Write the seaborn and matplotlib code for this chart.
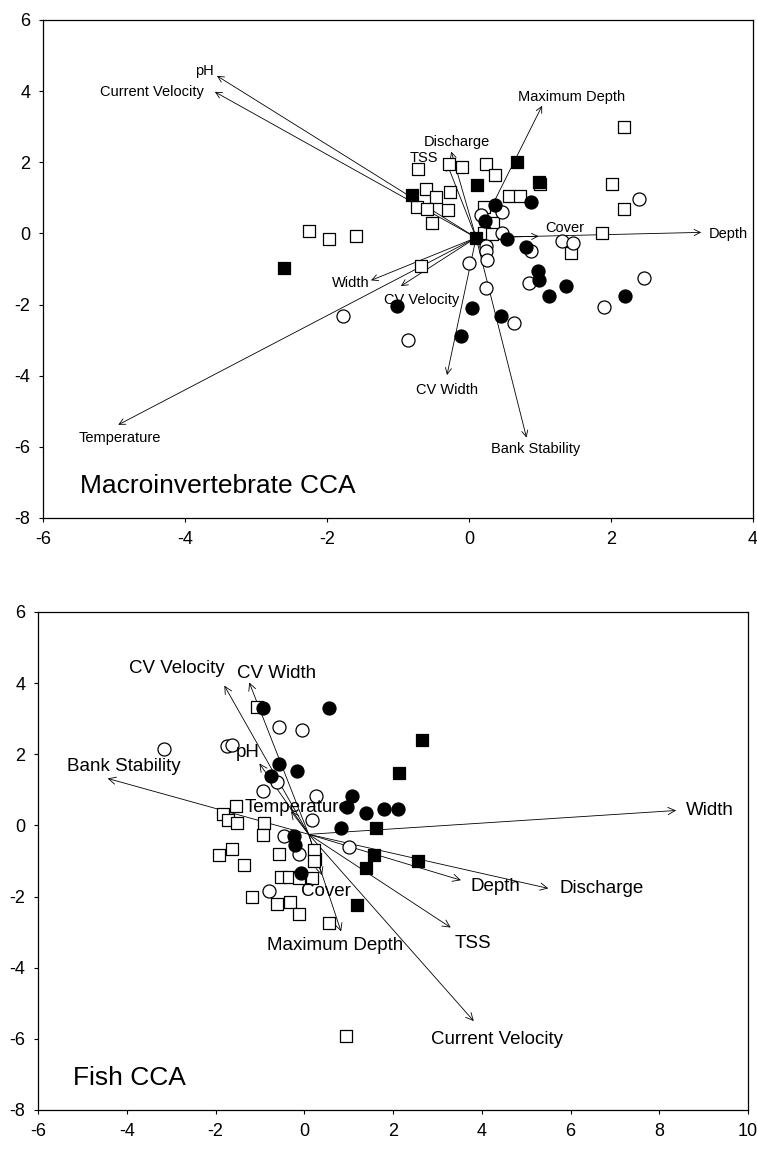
import matplotlib
matplotlib.use("Agg")
import matplotlib.pyplot as plt
import seaborn as sns
import pandas as pd

# ---------------- data: Macroinvertebrate CCA (site scores) ----------------
macro_open_sq = [(-2.25, 0.08), (-1.97, -0.17), (-1.59, -0.08), (-0.72, 1.82), (-0.28, 1.96),
                 (-0.10, 1.87), (0.24, 1.96), (0.37, 1.63), (-0.61, 1.26), (-0.47, 1.03),
                 (-0.27, 1.17), (-0.73, 0.75), (-0.59, 0.70), (-0.30, 0.65), (-0.52, 0.28),
                 (2.01, 1.40), (2.19, 3.00), (2.19, 0.70), (1.88, 0.00), (0.56, 1.04),
                 (0.72, 1.04), (0.21, 0.75), (0.34, 0.28), (0.21, 0.00), (0.32, -0.03),
                 (1.43, -0.56), (-0.67, -0.92), (1.00, 1.40)]
macro_filled_sq = [(-2.60, -0.98), (-0.80, 1.07), (0.11, 1.35), (0.67, 2.02), (0.98, 1.45), (0.10, -0.14)]
macro_open_ci = [(2.39, 0.98), (0.46, 0.59), (0.17, 0.53), (0.46, 0.00), (0.24, -0.34), (0.24, -0.50),
                 (0.88, -0.50), (1.31, -0.22), (1.47, -0.28), (0.25, -0.76), (0.00, -0.84),
                 (0.84, -1.40), (2.47, -1.26), (0.24, -1.54), (-0.86, -3.00), (0.63, -2.52),
                 (1.90, -2.07), (-1.78, -2.33)]
macro_filled_ci = [(0.87, 0.87), (0.37, 0.81), (0.22, 0.34), (0.53, -0.17), (0.80, -0.39),
                   (0.97, -1.06), (0.98, -1.32), (1.36, -1.48), (1.12, -1.77), (2.20, -1.77),
                   (-1.01, -2.04), (0.04, -2.10), (-0.11, -2.89), (0.45, -2.33)]

# environmental vectors (biplot scores)
macro_vars = ["pH", "Current Velocity", "Temperature", "Width", "CV Velocity", "CV Width",
              "Bank Stability", "Depth", "Cover", "Maximum Depth", "Discharge", "TSS"]
macro_vx = [-3.55, -3.58, -4.94, -1.38, -0.96, -0.31, 0.81, 3.27, 0.98, 1.03, -0.25, -0.31]
macro_vy = [4.43, 3.98, -5.38, -1.32, -1.48, -3.98, -5.74, 0.03, -0.08, 3.59, 2.30, 1.96]

# ---------------- data: Fish CCA ----------------
fish_open_sq = [(-1.06, 3.34), (-1.53, 0.56), (-1.82, 0.31), (-1.71, 0.14), (-1.51, 0.06),
                (-0.90, 0.06), (-0.92, -0.28), (-1.62, -0.65), (-1.91, -0.84), (-1.35, -1.10),
                (-0.58, -0.79), (0.25, -0.93), (0.22, -0.70), (0.22, -1.01), (-0.52, -1.46),
                (-0.34, -1.46), (-0.11, -1.49), (0.18, -1.49), (-1.17, -2.00), (-0.61, -2.22),
                (-0.31, -2.16), (-0.11, -2.50), (0.56, -2.73), (0.94, -5.93)]
fish_filled_sq = [(1.62, -0.06), (2.65, 2.39), (2.13, 1.46), (1.57, -0.84), (1.39, -1.21),
                  (2.56, -1.01), (1.19, -2.25)]
fish_open_ci = [(-3.15, 2.16), (-0.58, 2.78), (-0.04, 2.67), (-1.75, 2.22), (-1.62, 2.25),
                (-0.61, 1.21), (-0.94, 0.98), (0.27, 0.84), (0.18, 0.14), (-0.45, -0.31),
                (-0.11, -0.79), (1.01, -0.62), (-0.79, -1.85)]
fish_filled_ci = [(-0.94, 3.29), (0.56, 3.29), (-0.56, 1.74), (-0.16, 1.52), (-0.74, 1.38),
                  (1.08, 0.84), (0.97, 0.53), (1.39, 0.34), (1.80, 0.45), (2.11, 0.45),
                  (0.83, -0.06), (-0.22, -0.31), (-0.20, -0.56), (-0.07, -1.35)]

fish_vars = ["CV Velocity", "CV Width", "pH", "Bank Stability", "Temperature", "Width",
             "Depth", "Discharge", "TSS", "Current Velocity", "Maximum Depth", "Cover"]
fish_vx = [-1.80, -1.24, -1.01, -4.43, -0.30, 8.38, 3.53, 5.50, 3.30, 3.82, 0.83, 0.40]
fish_vy = [3.93, 4.02, 1.74, 1.32, 0.40, 0.42, -1.54, -1.77, -2.87, -5.50, -2.98, -1.40]

# ---------------- layout (label placement, not data) ----------------
macro_origin = (0.10, -0.12)
macro_label_pos = [(-3.72, 4.57), (-4.47, 3.98), (-4.92, -5.74), (-1.67, -1.40), (-0.67, -1.88),
                   (-0.31, -4.40), (0.94, -6.05), (3.65, -0.03), (1.35, 0.14), (1.45, 3.84),
                   (-0.17, 2.58), (-0.63, 2.13)]
fish_origin = (0.10, -0.25)
fish_label_pos = [(-2.88, 4.41), (-0.63, 4.27), (-1.28, 2.05), (-4.07, 1.66), (-0.16, 0.51),
                  (9.15, 0.42), (4.31, -1.71), (6.70, -1.77), (3.80, -3.31), (4.34, -6.01),
                  (0.70, -3.37), (0.49, -1.85)]

sns.set_theme(style="white")
plt.rcParams["font.family"] = ["Liberation Sans", "DejaVu Sans"]
plt.rcParams["axes.unicode_minus"] = False
plt.rcParams["text.color"] = "black"

fig = plt.figure(figsize=(7.57, 11.59), dpi=100)
ax1 = fig.add_axes([43 / 757, 1 - 518 / 1159, 710 / 757, 498 / 1159])
ax2 = fig.add_axes([38 / 757, 1 - 1110 / 1159, 710 / 757, 498 / 1159])


def draw_points(ax, pts, marker, filled, size):
    df = pd.DataFrame(pts, columns=["x", "y"])
    sns.scatterplot(data=df, x="x", y="y", ax=ax, marker=marker,
                    color="black" if filled else "white", edgecolor="black",
                    linewidth=0.9, s=size, zorder=3, legend=False)


def style_axes(ax, xlim, xticks):
    ax.set_xlim(*xlim)
    ax.set_ylim(-8, 6)
    ax.set_xticks(xticks)
    ax.set_yticks(range(-8, 7, 2))
    ax.set_xlabel("")
    ax.set_ylabel("")
    for sp in ax.spines.values():
        sp.set_color("black")
        sp.set_linewidth(0.9)
    ax.tick_params(axis="both", direction="out", length=3, width=0.8, colors="black",
                   labelsize=13, bottom=True, left=True, pad=6)


def draw_vectors(ax, names, vx, vy, origin, label_pos, fs, ms):
    for name, x, y, (lx, ly) in zip(names, vx, vy, label_pos):
        ax.annotate("", xy=(x, y), xytext=origin,
                    arrowprops=dict(arrowstyle="->", lw=0.6, color="black",
                                    mutation_scale=ms, shrinkA=0, shrinkB=0), zorder=2)
        ax.text(lx, ly, name, ha="center", va="center", fontsize=fs, color="black", zorder=4)


# top panel
draw_vectors(ax1, macro_vars, macro_vx, macro_vy, macro_origin, macro_label_pos, 10.5, 11)
draw_points(ax1, macro_open_sq, "s", False, 72)
draw_points(ax1, macro_filled_sq, "s", True, 72)
draw_points(ax1, macro_open_ci, "o", False, 88)
draw_points(ax1, macro_filled_ci, "o", True, 88)
style_axes(ax1, (-6, 4), range(-6, 5, 2))
ax1.text(-5.48, -7.09, "Macroinvertebrate CCA", ha="left", va="center", fontsize=19, color="black")

# bottom panel
draw_vectors(ax2, fish_vars, fish_vx, fish_vy, fish_origin, fish_label_pos, 13.5, 13)
draw_points(ax2, fish_open_sq, "s", False, 72)
draw_points(ax2, fish_filled_sq, "s", True, 72)
draw_points(ax2, fish_open_ci, "o", False, 88)
draw_points(ax2, fish_filled_ci, "o", True, 88)
style_axes(ax2, (-6, 10), range(-6, 11, 2))
ax2.text(-5.21, -7.10, "Fish CCA", ha="left", va="center", fontsize=19, color="black")

fig.savefig("out.png", dpi=100)
